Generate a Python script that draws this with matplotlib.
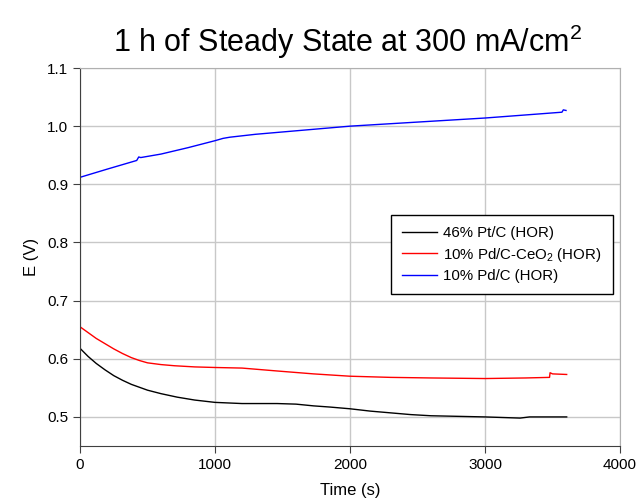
import numpy as np
import matplotlib
matplotlib.use('Agg')
import matplotlib.pyplot as plt

plt.rcParams['font.family'] = ['Liberation Sans', 'DejaVu Sans']
plt.rcParams['mathtext.fontset'] = 'custom'
plt.rcParams['mathtext.rm'] = 'Liberation Sans'

# values (time in s, potential in V)
t_pt = [0, 60, 120, 185, 250, 315, 380, 440, 500, 600, 720, 850, 1000, 1100, 1200, 1460, 1600, 1730, 1850,
        2000, 2150, 2300, 2450, 2600, 2800, 3000, 3130, 3260, 3330, 3450, 3605]
e_pt = [0.618, 0.604, 0.592, 0.581, 0.571, 0.563, 0.556, 0.551, 0.546, 0.540, 0.534, 0.529, 0.525, 0.524, 0.523,
        0.523, 0.522, 0.519, 0.517, 0.514, 0.510, 0.507, 0.504, 0.502, 0.501, 0.500, 0.499, 0.498, 0.500, 0.500, 0.500]

t_pdce = [0, 60, 120, 185, 250, 315, 380, 440, 500, 600, 700, 850, 1000, 1200, 1460, 1730, 2000, 2300, 2600,
          3000, 3300, 3478, 3482, 3500, 3605]
e_pdce = [0.655, 0.645, 0.635, 0.626, 0.617, 0.609, 0.602, 0.597, 0.593, 0.590, 0.588, 0.586, 0.585, 0.584,
          0.579, 0.574, 0.570, 0.568, 0.567, 0.566, 0.567, 0.568, 0.576, 0.574, 0.573]

t_pd = [0, 200, 420, 435, 450, 600, 800, 1000, 1060, 1110, 1300, 1500, 2000, 2500, 3000, 3400, 3570, 3580, 3600]
e_pd = [0.912, 0.926, 0.941, 0.947, 0.946, 0.952, 0.963, 0.975, 0.979, 0.981, 0.986, 0.990, 1.000, 1.007,
        1.014, 1.021, 1.024, 1.028, 1.027]

fig = plt.figure(figsize=(6.38, 5.0), dpi=100)
ax = fig.add_axes([0.1254, 0.108, 0.8464, 0.756])

ax.plot(t_pt, e_pt, color='black', lw=1, label='46% Pt/C (HOR)')
ax.plot(t_pdce, e_pdce, color='red', lw=1, label=r'10% Pd/C-CeO$\mathregular{_2}$ (HOR)')
ax.plot(t_pd, e_pd, color='blue', lw=1, label='10% Pd/C (HOR)')

ax.set_xlim(0, 4000)
ax.set_ylim(0.45, 1.1)
ax.set_xticks([0, 1000, 2000, 3000, 4000])
ax.set_yticks([0.5, 0.6, 0.7, 0.8, 0.9, 1.0, 1.1])
ax.yaxis.set_major_formatter(matplotlib.ticker.FormatStrFormatter('%.1f'))
ax.grid(True, color='#c8c8c8', lw=1)
ax.set_axisbelow(True)
ax.tick_params(direction='out', length=5, labelsize=11, color='#404040')
for s in ['left', 'bottom']:
    ax.spines[s].set_color('#404040')
for s in ['top', 'right']:
    ax.spines[s].set_color('#b0b0b0')

ax.set_xlabel('Time (s)', fontsize=12, labelpad=8)
ax.set_ylabel('E (V)', fontsize=12, labelpad=6)
fig.suptitle(r'1 h of Steady State at 300 mA/cm$\mathregular{^2}$', fontsize=22, x=0.545, y=0.955)

leg = ax.legend(loc='upper right', bbox_to_anchor=(0.987, 0.611), borderaxespad=0, fontsize=10.8,
                fancybox=False, edgecolor='black', framealpha=1, handlelength=2.3, handletextpad=0.45,
                borderpad=0.75, labelspacing=0.35)
leg.get_frame().set_linewidth(1)

fig.savefig('out.png', dpi=100)
